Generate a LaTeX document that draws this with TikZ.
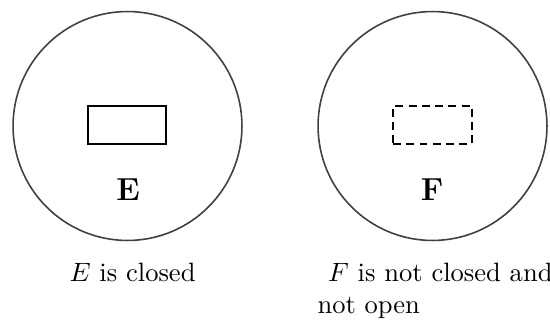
\documentclass[tikz,border=0pt]{standalone}
\usepackage{amsmath}
\usepackage{amssymb}
\usepackage{tikz}
\usetikzlibrary{positioning, calc}

\begin{document}
\begin{tikzpicture}[
    x=0.377pt, y=-0.377pt,
    % Space (big circle) styling
    space/.style={draw=black!75, semithick, circle, inner sep=0pt, minimum size=86.3pt},
    % Set styling
    closedset/.style={draw=black, thick, rectangle, inner sep=0pt, minimum width=29.4pt, minimum height=14.3pt},
    opensetpart/.style={draw=black, thick, dash pattern=on 3pt off 2pt, rectangle, inner sep=0pt, minimum width=29.8pt, minimum height=14.3pt},
    setname/.style={font=\large\bfseries, inner sep=0pt},
    caption/.style={inner sep=0pt, align=left}
]
\useasboundingbox (0,0) rectangle (550,322);

% ---------------------------------------------------
% 1. LEFT PICTURE (E)
% ---------------------------------------------------
\node[space] (spaceE) at (127.5, 126) {};
\node[closedset] (setE) at (127, 125) {};
\node[setname] (nameE) at (128, 190) {E};
\node[caption, anchor=base] (capE) at (132.5, 281.7) {$E$ is closed};

% ---------------------------------------------------
% 2. RIGHT PICTURE (F)
% ---------------------------------------------------
\node[space] (spaceF) at (432.5, 126) {};
\node[opensetpart] (setF) at (432.5, 125) {};
\node[setname] (nameF) at (432, 190) {F};
\node[caption, anchor=base west] (capF) at (317, 313.2) {\hspace*{4pt}$F$ is not closed and\\not open};

\end{tikzpicture}
\end{document}
